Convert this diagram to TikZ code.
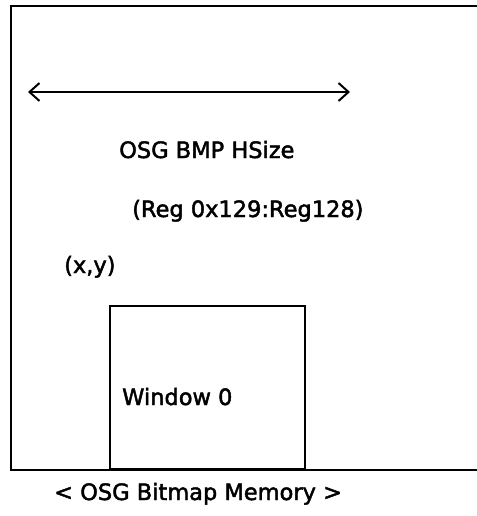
\documentclass[tikz,border=0pt]{standalone}
\usepackage{fontspec}
\newfontfamily\lblfont[FakeBold=2]{DejaVu Sans}
\usetikzlibrary{arrows.meta}
\begin{document}
\begin{tikzpicture}[x=1pt,y=-1pt,
  box/.style={draw=black,line width=2.6pt},
  lbl/.style={anchor=base west,inner sep=0pt,font=\lblfont\fontsize{22.5}{26}\selectfont},
  barb/.tip={Straight Barb[length=10pt,width=18pt,line width=2pt]},
  dim/.style={line width=2.4pt,{barb}-{barb}}]
\useasboundingbox (0,0) rectangle (476,516);
\draw[box] (480,6) -- (11,6) -- (11,470) -- (480,470);
\draw[box] (110,306) rectangle (305,469);
\coordinate (aL) at (28,92);
\coordinate (aR) at (350,92);
\draw[dim] (aL) -- (aR);
\node[lbl] (h) at (119,158) {OSG BMP HSize};
\node[lbl] (r) at (132,217) {(Reg 0x129:Reg128)};
\node[lbl] (xy) at (64,273) {(x,y)};
\node[lbl] (w) at (122,405) {Window 0};
\node[lbl] (m) at (54,500) {< OSG Bitmap Memory >};
\end{tikzpicture}
\end{document}
